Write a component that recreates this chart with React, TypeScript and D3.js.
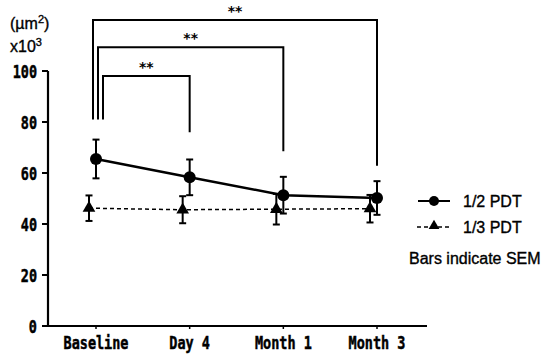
import React from "react";
import * as d3 from "d3";

const categories = ["Baseline", "Day 4", "Month 1", "Month 3"];
const halfPdt = [65.5, 58.3, 51.3, 50.2];
const halfSem = [7.6, 7.0, 7.2, 6.6];
const thirdPdt = [46.2, 45.6, 45.8, 46.0];
const thirdSem = [5.0, 5.3, 6.0, 5.4];
const yTicks = [0, 20, 40, 60, 80, 100];
// significance brackets: from category index, to category index, top level, left-foot, right-foot (data units)
const bracketFrom = [0, 0, 0];
const bracketTo = [1, 2, 3];
const bracketTop = [98, 109.3, 120];
const bracketLeftFoot = [81, 81, 81];
const bracketRightFoot = [76, 68.5, 62.8];
const bracketLabels = ["**", "**", "**"];
const legendLabels = ["1/2 PDT", "1/3 PDT"];

const W = 545;
const H = 354;

export default function App() {
  const x = d3.scalePoint<string>().domain(categories).range([96, 377]);
  const y = d3.scaleLinear().domain([0, 100]).range([326, 71]);
  const triOff = -7;
  const bracketOff = [7, 2, -3];
  const tri = d3.symbol().type(d3.symbolTriangle).size(70)();
  const line = d3
    .line<number>()
    .x((_, i) => x(categories[i])!)
    .y((d) => y(d));
  const line2 = d3
    .line<number>()
    .x((_, i) => x(categories[i])! + triOff)
    .y((d) => y(d));

  const monoText = (t: string, tx: number, ty: number, anchor: string, key: string | number) => (
    <text
      key={key}
      transform={`translate(${tx},${ty}) scale(0.75,1)`}
      textAnchor={anchor}
      fontFamily="DejaVu Sans Mono"
      fontWeight="bold"
      fontSize={18}
      fill="#000"
      stroke="#000"
      strokeWidth={0.5}
    >
      {t}
    </text>
  );

  const sans = {
    fontFamily: "Liberation Sans, Arial",
    fontSize: 16,
    fill: "#000",
    stroke: "#000",
    strokeWidth: 0.35,
  } as const;

  const errBar = (cx: number, v: number, s: number, key: string) => (
    <g key={key} stroke="#000" strokeWidth={2}>
      <line x1={cx} x2={cx} y1={y(v + s)} y2={y(v - s)} />
      <line x1={cx - 3.5} x2={cx + 3.5} y1={y(v + s)} y2={y(v + s)} />
      <line x1={cx - 3.5} x2={cx + 3.5} y1={y(v - s)} y2={y(v - s)} />
    </g>
  );

  return (
    <svg
      width={W}
      height={H}
      style={{ position: "absolute", left: 0, top: 0, background: "#fff" }}
    >
      <rect width={W} height={H} fill="#fff" />
      {/* unit labels */}
      <text x={10} y={29} {...sans}>
        (µm<tspan dy={-6} fontSize={11}>2</tspan><tspan dy={6}>)</tspan>
      </text>
      <text x={10} y={52} {...sans}>
        x10<tspan dy={-6} fontSize={11}>3</tspan>
      </text>

      {/* brackets */}
      {bracketFrom.map((f, i) => {
        const x1 = x(categories[f])! + bracketOff[i];
        const x2 = x(categories[bracketTo[i]])!;
        const yt = y(bracketTop[i]);
        return (
          <g key={"b" + i}>
            <path
              d={`M${x1},${y(bracketLeftFoot[i])}V${yt}H${x2}V${y(bracketRightFoot[i])}`}
              fill="none"
              stroke="#000"
              strokeWidth={2}
            />
            <text
              x={(x1 + x2) / 2}
              y={yt - 4}
              textAnchor="middle"
              fontFamily="DejaVu Sans"
              fontWeight="bold"
              fontSize={14}
              fill="#000"
            >
              {bracketLabels[i]}
            </text>
          </g>
        );
      })}

      {/* axes */}
      <line x1={48} x2={48} y1={y(100)} y2={y(0)} stroke="#000" strokeWidth={2.2} />
      <line x1={43} x2={427} y1={y(0)} y2={y(0)} stroke="#000" strokeWidth={2.2} />
      {yTicks.map((t) => (
        <g key={"yt" + t}>
          <line x1={42} x2={48} y1={y(t)} y2={y(t)} stroke="#000" strokeWidth={2} />
          {monoText(String(t), 37, y(t) + 6.5, "end", "ytl" + t)}
        </g>
      ))}
      {categories.map((c) => (
        <g key={"xt" + c}>
          <line x1={x(c)!} x2={x(c)!} y1={y(0)} y2={y(0) + 3} stroke="#000" strokeWidth={1.5} />
          {monoText(c, x(c)!, 349, "middle", "xtl" + c)}
        </g>
      ))}

      {/* 1/3 PDT series */}
      <path d={line2(thirdPdt)!} fill="none" stroke="#000" strokeWidth={1.5} strokeDasharray="4,3" />
      {thirdPdt.map((v, i) => errBar(x(categories[i])! + triOff, v, thirdSem[i], "te" + i))}
      {thirdPdt.map((v, i) => (
        <path
          key={"tp" + i}
          d={tri!}
          transform={`translate(${x(categories[i])! + triOff},${y(v)})`}
          fill="#000"
        />
      ))}

      {/* 1/2 PDT series */}
      <path d={line(halfPdt)!} fill="none" stroke="#000" strokeWidth={2.5} />
      {halfPdt.map((v, i) => errBar(x(categories[i])!, v, halfSem[i], "he" + i))}
      {halfPdt.map((v, i) => (
        <circle key={"hp" + i} cx={x(categories[i])!} cy={y(v)} r={6} fill="#000" />
      ))}

      {/* legend */}
      <line x1={418} x2={450} y1={201} y2={201} stroke="#000" strokeWidth={2} />
      <circle cx={434} cy={201} r={5} fill="#000" />
      <text x={463} y={206.5} {...sans}>
        {legendLabels[0]}
      </text>
      <line x1={417} x2={451} y1={227} y2={227} stroke="#000" strokeWidth={1.5} strokeDasharray="4,3" />
      <path d={tri!} transform="translate(434,226) scale(0.85)" fill="#000" />
      <text x={463} y={232.5} {...sans}>
        {legendLabels[1]}
      </text>
      <text x={409} y={263.5} {...sans}>
        Bars indicate SEM
      </text>
    </svg>
  );
}
